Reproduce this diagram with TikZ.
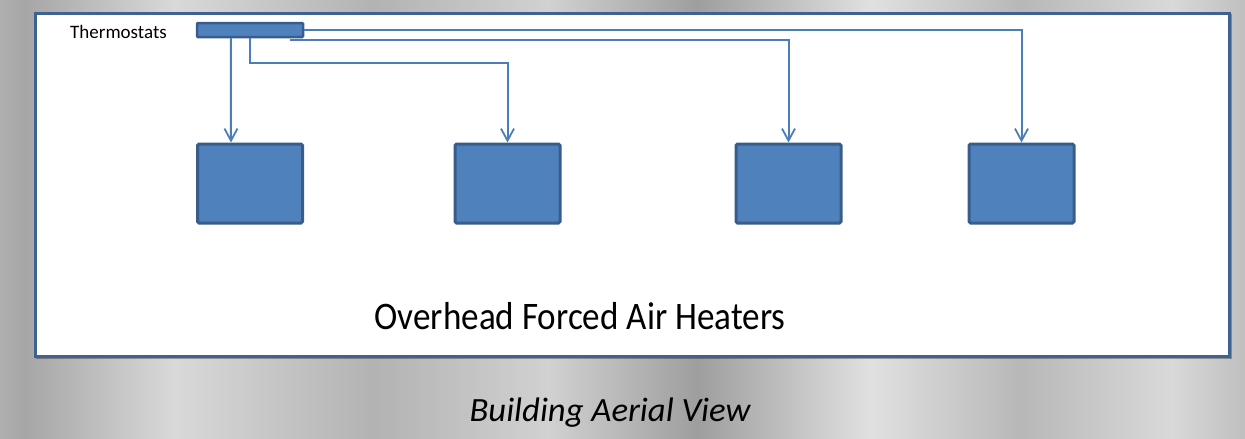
\documentclass[tikz,border=0pt]{standalone}
\usepackage{fontspec}
\setmainfont{Carlito}
\usetikzlibrary{arrows.meta,calc}
\definecolor{boxfill}{HTML}{4F81BD}
\definecolor{boxline}{HTML}{385D8A}
\definecolor{framec}{HTML}{3E6392}
\definecolor{conn}{HTML}{4A7EBB}
\pgfdeclarehorizontalshading{bgshade}{100bp}{%
color(0bp)=(black!55);
color(3bp)=(black!25);
color(7bp)=(black!45);
color(10bp)=(black!20);
color(14bp)=(black!40);
color(20bp)=(black!12);
color(26bp)=(black!35);
color(32bp)=(black!15);
color(40bp)=(black!30);
color(47bp)=(black!18);
color(53bp)=(black!38);
color(60bp)=(black!12);
color(66bp)=(black!28);
color(72bp)=(black!15);
color(78bp)=(black!35);
color(84bp)=(black!12);
color(90bp)=(black!25);
color(95bp)=(black!18);
color(100bp)=(black!30)}
\tikzset{
  heater/.style={draw=boxline, line width=3pt, fill=boxfill, rounded corners=1.5pt,
    minimum width=105pt, minimum height=79pt, inner sep=0pt},
  thermobar/.style={draw=boxline, line width=2.5pt, fill=boxfill, rounded corners=1pt,
    minimum width=106pt, minimum height=14pt, inner sep=0pt},
  conn/.style={draw=conn, line width=2pt,
    -{Straight Barb[length=12pt,width=13pt,line width=1.8pt]}},
  framebox/.style={draw=framec, line width=3pt, fill=white, inner sep=0pt,
    minimum width=1194pt, minimum height=343pt, anchor=north west}
}
\begin{document}
\begin{tikzpicture}[x=1pt,y=-1pt]
\useasboundingbox (0,0) rectangle (1245,439);
\shade[shading=bgshade] (0,0) rectangle (1245,439);
% shadow of frame
\fill[black, opacity=0.3] (36,14) rectangle (1232,359);
\node[framebox] (frame) at (34,12) {};
% thermostat bar
\node[thermobar] (th) at (250,30) {};
\node[font=\fontsize{19}{22}\selectfont, anchor=east, inner sep=0pt] (thlabel) at (167,32) {Thermostats};
% heaters
\node[heater] (h1) at (250,183.5) {};
\node[heater] (h2) at (507.5,183.5) {};
\node[heater] (h3) at (788.5,183.5) {};
\node[heater] (h4) at (1021.5,183.5) {};
% connectors
\draw[conn] ([xshift=35pt]th.south west) -- ([xshift=-19pt]h1.north);
\draw[conn] ([xshift=54pt]th.south west) -- ++(0,25) -| (h2.north);
\draw[conn] ([xshift=-14pt,yshift=-2pt]th.south east) -| (h3.north);
\draw[conn] (th.east) -| (h4.north);
% labels
\node[font=\fontsize{39}{44}\selectfont, inner sep=0pt] (title) at (580,316) {\scalebox{0.9}[1]{Overhead Forced Air Heaters}};
\node[font=\fontsize{34}{40}\selectfont\itshape, inner sep=0pt] (caption) at (610,413) {\scalebox{1.02}[1]{Building Aerial View}};
\end{tikzpicture}
\end{document}
